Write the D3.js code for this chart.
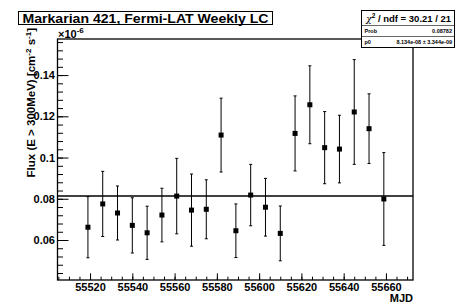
<!DOCTYPE html>
<html>
<head>
<meta charset="utf-8">
<script src="https://cdn.jsdelivr.net/npm/d3@7"></script>
<style>
  html, body { margin: 0; padding: 0; background: #fff; }
  svg { display: block; font-family: 'Liberation Sans', Arial, sans-serif; font-weight: bold; }
</style>
</head>
<body>
<div id="chart"></div>
<script>
// Weekly bins (MJD) and flux in units of 1e-6 ph cm^-2 s^-1
const mjd = [55519, 55526, 55533, 55540, 55547, 55554, 55561, 55568, 55575, 55582, 55589,
  55596, 55603, 55610, 55617, 55624, 55631, 55638, 55645, 55652, 55659]
const flux = [0.0662, 0.0775, 0.0731, 0.0671, 0.0635, 0.0721, 0.0813, 0.0745, 0.0749, 0.1109, 0.0645,
  0.0818, 0.0759, 0.0632, 0.1117, 0.1256, 0.1048, 0.1041, 0.1221, 0.1140, 0.0799]
const fluxErr = [0.0148, 0.0158, 0.0131, 0.0134, 0.0129, 0.0130, 0.0183, 0.0175, 0.0143, 0.0179, 0.0130,
  0.0149, 0.0140, 0.0133, 0.0182, 0.0189, 0.0175, 0.0164, 0.0254, 0.0169, 0.0225]

// constant fit p0
const fitP0 = 0.08134

const xTicks = [55520, 55540, 55560, 55580, 55600, 55620, 55640, 55660]
const yTicks = [0.06, 0.08, 0.1, 0.12, 0.14]

const config = {
  width: 457,
  height: 304,
  left: 57.5,
  right: 413,
  top: 39,
  bottom: 280,
  xDomain: [55504.6, 55672.8],
  yDomain: [0.0406, 0.1575]
}

const svg = d3.select('#chart')
  .append('svg')
  .attr('width', config.width)
  .attr('height', config.height)

const x = d3.scaleLinear().domain(config.xDomain).range([config.left, config.right])
const y = d3.scaleLinear().domain(config.yDomain).range([config.bottom, config.top])

// minor ticks
svg.append('g')
  .attr('transform', `translate(0,${config.bottom})`)
  .call(d3.axisBottom(x).tickValues(d3.range(55505, 55673, 5)).tickSize(-3.3).tickFormat(''))
svg.append('g')
  .attr('transform', `translate(${config.left},0)`)
  .call(d3.axisLeft(y).tickValues(d3.range(0.044, 0.157, 0.004)).tickSize(-5.5).tickFormat(''))

// major ticks
const xAxis = svg.append('g')
  .attr('transform', `translate(0,${config.bottom})`)
  .call(d3.axisBottom(x).tickValues(xTicks).tickSize(-6.7).tickPadding(3).tickFormat(d => d))
const yAxis = svg.append('g')
  .attr('transform', `translate(${config.left},0)`)
  .call(d3.axisLeft(y).tickValues(yTicks).tickSize(-11).tickPadding(2.5).tickFormat(d => +d.toFixed(2)))

svg.selectAll('.domain').remove()
svg.selectAll('.tick line').attr('stroke', '#000')
svg.selectAll('.tick text')
  .attr('fill', '#000')
  .style('font-size', '11px')
  .style('font-family', "'Liberation Sans', Arial, sans-serif")
  .style('font-weight', 'bold')
xAxis.selectAll('.tick text').attr('y', 3.5)

// frame
svg.append('rect')
  .attr('x', config.left)
  .attr('y', config.top)
  .attr('width', config.right - config.left)
  .attr('height', config.bottom - config.top)
  .attr('fill', 'none')
  .attr('stroke', '#000')
  .attr('stroke-width', 1.3)

// fit line
svg.append('line')
  .attr('x1', config.left)
  .attr('x2', config.right)
  .attr('y1', y(fitP0))
  .attr('y2', y(fitP0))
  .attr('stroke', '#000')
  .attr('stroke-width', 1.6)

// error bars
const pts = mjd.map((m, i) => ({ m, v: flux[i], e: fluxErr[i] }))
const bars = svg.append('g')
bars.selectAll('line.err')
  .data(pts)
  .enter()
  .append('line')
  .attr('class', 'err')
  .attr('x1', d => x(d.m))
  .attr('x2', d => x(d.m))
  .attr('y1', d => y(d.v - d.e))
  .attr('y2', d => y(d.v + d.e))
  .attr('stroke', '#000')
  .attr('stroke-width', 1)
;['lo', 'hi'].forEach(k => {
  bars.selectAll('line.cap-' + k)
    .data(pts)
    .enter()
    .append('line')
    .attr('x1', d => x(d.m) - 1.5)
    .attr('x2', d => x(d.m) + 1.5)
    .attr('y1', d => y(k === 'lo' ? d.v - d.e : d.v + d.e))
    .attr('y2', d => y(k === 'lo' ? d.v - d.e : d.v + d.e))
    .attr('stroke', '#000')
    .attr('stroke-width', 1)
})

// markers
svg.selectAll('.dot')
  .data(pts)
  .enter()
  .append('rect')
  .attr('class', 'dot')
  .attr('x', d => x(d.m) - 2.5)
  .attr('y', d => y(d.v) - 2.5)
  .attr('width', 5)
  .attr('height', 5)
  .attr('fill', '#000')

// axis titles
svg.append('text')
  .attr('x', config.right)
  .attr('y', 302)
  .attr('text-anchor', 'end')
  .attr('font-size', '11px')
  .text('MJD')

const yt = svg.append('text')
  .attr('transform', 'translate(35,28) rotate(-90)')
  .attr('text-anchor', 'end')
  .attr('font-size', '11.5px')
yt.append('tspan').text('Flux (E > 300MeV) [cm')
yt.append('tspan').attr('dy', -4).attr('font-size', '8px').text('-2')
yt.append('tspan').attr('dy', 4).text(' s')
yt.append('tspan').attr('dy', -4).attr('font-size', '8px').text('-1')
yt.append('tspan').attr('dy', 4).text(']')

const exp = svg.append('text')
  .attr('x', 58)
  .attr('y', 38)
  .attr('font-size', '11px')
exp.append('tspan').text('\u00d710')
exp.append('tspan').attr('dy', -5).attr('font-size', '8px').text('-6')

// title box
svg.append('rect')
  .attr('x', 18.5)
  .attr('y', 11.5)
  .attr('width', 254)
  .attr('height', 13)
  .attr('fill', '#fff')
  .attr('stroke', '#000')
  .attr('stroke-width', 1)
svg.append('text')
  .attr('x', 145.5)
  .attr('y', 22.5)
  .attr('text-anchor', 'middle')
  .attr('font-size', '13px')
  .attr('textLength', 246)
  .attr('lengthAdjust', 'spacingAndGlyphs')
  .text('Markarian 421, Fermi-LAT Weekly LC')

// stats box
const sb = { x: 361, y: 10, w: 93, h: 37 }
svg.append('rect')
  .attr('x', sb.x + 0.5)
  .attr('y', sb.y + 0.5)
  .attr('width', sb.w)
  .attr('height', sb.h)
  .attr('fill', '#fff')
  .attr('stroke', '#000')
  .attr('stroke-width', 1)
;[25, 36].forEach(yy => {
  svg.append('line')
    .attr('x1', sb.x).attr('x2', sb.x + sb.w)
    .attr('y1', yy + 0.5).attr('y2', yy + 0.5)
    .attr('stroke', '#000')
    .attr('stroke-width', 0.6)
})
const chi = svg.append('text')
  .attr('x', sb.x + sb.w / 2 + 1)
  .attr('y', 22)
  .attr('text-anchor', 'middle')
  .attr('font-size', '9.5px')
chi.append('tspan').attr('font-family', "'DejaVu Serif', serif").attr('font-style', 'italic').attr('font-weight', 'normal').text('\u03c7')
chi.append('tspan').attr('dy', -4).attr('font-size', '6.5px').text('2')
chi.append('tspan').attr('dy', 4).text(' / ndf = 30.21 / 21')

const stats = [['Prob', '0.08782', 32.5], ['p0', '8.134e-08 \u00b1 3.344e-09', 43.5]]
stats.forEach(([k, v, yy]) => {
  svg.append('text').attr('x', sb.x + 3.5).attr('y', yy).attr('font-size', '5.5px').text(k)
  svg.append('text').attr('x', sb.x + sb.w - 2).attr('y', yy).attr('text-anchor', 'end')
    .attr('font-size', '5.5px').text(v)
})
</script>
</body>
</html>
